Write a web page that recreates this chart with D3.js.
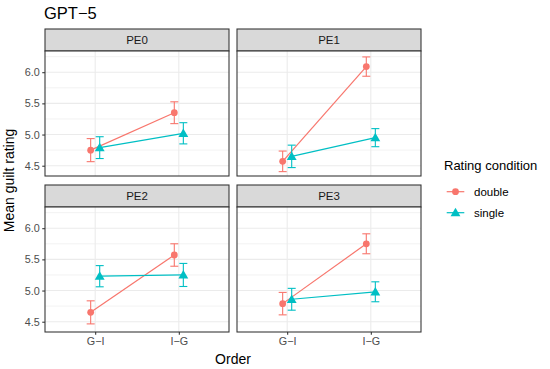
<!DOCTYPE html>
<html>
<head>
<meta charset="utf-8">
<script src="https://cdn.jsdelivr.net/npm/d3@7"></script>
<style>
  body { margin: 0; background: #fff; }
  svg { display: block; font-family: "Liberation Sans", Arial, Helvetica, sans-serif; }
</style>
</head>
<body>
<svg id="chart" width="550" height="369"></svg>
<script>
// ---- data ----
const title = "GPT\u22125";
const panels = ["PE0", "PE1", "PE2", "PE3"];
const orders = ["G\u2212I", "I\u2212G"];
const conditions = ["double", "single"];
const doubleMean = [[4.75, 5.35], [4.57, 6.09], [4.65, 5.57], [4.79, 5.75]];
const doubleErr  = [[0.185, 0.175], [0.165, 0.155], [0.185, 0.18], [0.18, 0.16]];
const singleMean = [[4.79, 5.02], [4.65, 4.95], [5.23, 5.25], [4.86, 4.98]];
const singleErr  = [[0.175, 0.17], [0.18, 0.145], [0.17, 0.185], [0.175, 0.16]];
const yTicks = [4.5, 5.0, 5.5, 6.0];
const yMinor = [4.75, 5.25, 5.75, 6.25];
const yLabel = "Mean guilt rating";
const xLabel = "Order";
const legendTitle = "Rating condition";

const colors = { double: "#F8766D", single: "#00BFC4" };
const series = { double: { mean: doubleMean, err: doubleErr }, single: { mean: singleMean, err: singleErr } };

// ---- layout ----
const svg = d3.select("#chart");
const panelW = 184, panelH = 125, stripH = 22;
const colX = [45, 237];
const rowY = [29, 185];

const x = d3.scalePoint().domain(orders).range([0, panelW]).padding(0.6);
const y = d3.scaleLinear().domain([4.335, 6.34]).range([panelH, 0]);
const dodge = x.step() * 0.054;
const dodgeOff = { double: -dodge, single: dodge };

svg.append("text").attr("x", 44).attr("y", 19)
  .attr("font-size", 16.5).attr("fill", "#000").text(title);

panels.forEach((p, i) => {
  const col = i % 2, row = Math.floor(i / 2);
  const g = svg.append("g").attr("transform", `translate(${colX[col]},${rowY[row]})`);
  // strip
  g.append("rect").attr("x", 0).attr("y", 0).attr("width", panelW).attr("height", stripH)
    .attr("fill", "#D9D9D9").attr("stroke", "#333333").attr("stroke-width", 1.07);
  g.append("text").attr("x", panelW / 2).attr("y", stripH / 2).attr("dy", "0.36em")
    .attr("text-anchor", "middle").attr("font-size", 11.5).attr("fill", "#1A1A1A").text(p);

  const pg = g.append("g").attr("transform", `translate(0,${stripH})`);
  pg.append("rect").attr("width", panelW).attr("height", panelH).attr("fill", "#fff");
  // minor grid
  pg.selectAll(".ymin").data(yMinor.filter(v => v >= y.domain()[0] && v <= y.domain()[1])).enter().append("line")
    .attr("x1", 0).attr("x2", panelW).attr("y1", d => y(d)).attr("y2", d => y(d))
    .attr("stroke", "#EBEBEB").attr("stroke-width", 0.6);
  // major grid
  pg.selectAll(".ymaj").data(yTicks).enter().append("line")
    .attr("x1", 0).attr("x2", panelW).attr("y1", d => y(d)).attr("y2", d => y(d))
    .attr("stroke", "#EBEBEB").attr("stroke-width", 1.1);
  pg.selectAll(".xmaj").data(orders).enter().append("line")
    .attr("x1", d => x(d)).attr("x2", d => x(d)).attr("y1", 0).attr("y2", panelH)
    .attr("stroke", "#EBEBEB").attr("stroke-width", 1.1);

  conditions.forEach(c => {
    const pts = orders.map((o, j) => ({
      x: x(o) + dodgeOff[c],
      m: series[c].mean[i][j],
      e: series[c].err[i][j]
    }));
    // error bars
    pts.forEach(d => {
      const eg = pg.append("g").attr("stroke", colors[c]).attr("stroke-width", 1.1);
      eg.append("line").attr("x1", d.x).attr("x2", d.x).attr("y1", y(d.m - d.e)).attr("y2", y(d.m + d.e));
      eg.append("line").attr("x1", d.x - 4).attr("x2", d.x + 4).attr("y1", y(d.m - d.e)).attr("y2", y(d.m - d.e));
      eg.append("line").attr("x1", d.x - 4).attr("x2", d.x + 4).attr("y1", y(d.m + d.e)).attr("y2", y(d.m + d.e));
    });
    // line
    pg.append("path").datum(pts)
      .attr("d", d3.line().x(d => d.x).y(d => y(d.m)))
      .attr("fill", "none").attr("stroke", colors[c]).attr("stroke-width", 1.2);
    // points
    pts.forEach(d => {
      if (c === "double") {
        pg.append("circle").attr("cx", d.x).attr("cy", y(d.m)).attr("r", 3.4).attr("fill", colors[c]);
      } else {
        pg.append("path").attr("d", d3.symbol().type(d3.symbolTriangle).size(42)())
          .attr("transform", `translate(${d.x},${y(d.m) + 0.8})`).attr("fill", colors[c]);
      }
    });
  });

  // border
  pg.append("rect").attr("width", panelW).attr("height", panelH)
    .attr("fill", "none").attr("stroke", "#333333").attr("stroke-width", 1.07);

  // axes
  if (col === 0) {
    const ax = pg.append("g").call(d3.axisLeft(y).tickValues(yTicks).tickFormat(d3.format(".1f")).tickSize(2.75).tickPadding(2.5));
    ax.select(".domain").remove();
    ax.selectAll("line").attr("stroke", "#333333").attr("stroke-width", 1.07);
    ax.selectAll("text").attr("fill", "#4D4D4D").attr("font-size", 10.8).attr("font-family", "Liberation Sans, Arial, sans-serif");
  }
  if (row === 1) {
    const ax = pg.append("g").attr("transform", `translate(0,${panelH})`)
      .call(d3.axisBottom(x).tickSize(2.75).tickPadding(3));
    ax.select(".domain").remove();
    ax.selectAll("line").attr("stroke", "#333333").attr("stroke-width", 1.07);
    ax.selectAll("text").attr("fill", "#4D4D4D").attr("font-size", 10.8).attr("font-family", "Liberation Sans, Arial, sans-serif");
  }
});

// axis titles
svg.append("text").attr("x", 233).attr("y", 364).attr("text-anchor", "middle")
  .attr("font-size", 14).attr("fill", "#000").text(xLabel);
svg.append("text").attr("transform", "translate(14,180.5) rotate(-90)").attr("text-anchor", "middle")
  .attr("font-size", 14).attr("fill", "#000").text(yLabel);

// legend
const lg = svg.append("g");
lg.append("text").attr("x", 444).attr("y", 170).attr("font-size", 13).attr("fill", "#000").text(legendTitle);
conditions.forEach((c, k) => {
  const cy = 191.7 + k * 21;
  lg.append("line").attr("x1", 446.7).attr("x2", 464.3).attr("y1", cy).attr("y2", cy)
    .attr("stroke", colors[c]).attr("stroke-width", 1.2);
  if (c === "double") {
    lg.append("circle").attr("cx", 455.5).attr("cy", cy).attr("r", 3.4).attr("fill", colors[c]);
  } else {
    lg.append("path").attr("d", d3.symbol().type(d3.symbolTriangle).size(42)())
      .attr("transform", `translate(455.5,${cy + 0.8})`).attr("fill", colors[c]);
  }
  lg.append("text").attr("x", 474).attr("y", cy).attr("dy", "0.35em")
    .attr("font-size", 11.5).attr("fill", "#000").text(c);
});
</script>
</body>
</html>
